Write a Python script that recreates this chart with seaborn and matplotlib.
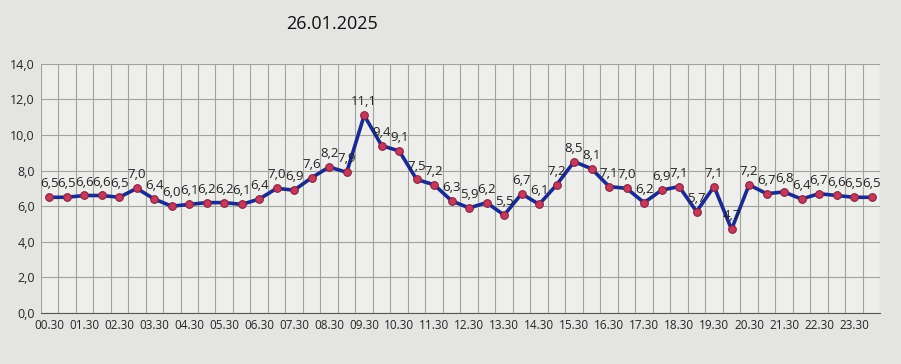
import matplotlib
matplotlib.use("Agg")
import matplotlib.pyplot as plt
import seaborn as sns
import numpy as np
import pandas as pd

title = "26.01.2025"
times = ["00.30", "01.00", "01.30", "02.00", "02.30", "03.00", "03.30", "04.00",
         "04.30", "05.00", "05.30", "06.00", "06.30", "07.00", "07.30", "08.00",
         "08.30", "09.00", "09.30", "10.00", "10.30", "11.00", "11.30", "12.00",
         "12.30", "13.00", "13.30", "14.00", "14.30", "15.00", "15.30", "16.00",
         "16.30", "17.00", "17.30", "18.00", "18.30", "19.00", "19.30", "20.00",
         "20.30", "21.00", "21.30", "22.00", "22.30", "23.00", "23.30", "24.00"]
values = [6.5, 6.5, 6.6, 6.6, 6.5, 7.0, 6.4, 6.0, 6.1, 6.2, 6.2, 6.1, 6.4, 7.0, 6.9, 7.6,
          8.2, 7.9, 11.1, 9.4, 9.1, 7.5, 7.2, 6.3, 5.9, 6.2, 5.5, 6.7, 6.1, 7.2, 8.5, 8.1,
          7.1, 7.0, 6.2, 6.9, 7.1, 5.7, 7.1, 4.7, 7.2, 6.7, 6.8, 6.4, 6.7, 6.6, 6.5, 6.5]
y_ticks = [0, 2, 4, 6, 8, 10, 12, 14]

df = pd.DataFrame({"pos": np.arange(len(times)), "time": times, "value": values})

sns.set_style("white")
plt.rcParams["font.family"] = ["Open Sans", "DejaVu Sans"]

fig = plt.figure(figsize=(9.01, 3.64), dpi=100)
fig.patch.set_facecolor("#e4e4e2")
ax = fig.add_axes([0.045, 0.14, 0.932, 0.685])
ax.set_facecolor("#eeeeec")

sns.lineplot(data=df, x="pos", y="value", ax=ax, color="#1b2a8f", linewidth=2.6,
             marker="o", markersize=5.5, markerfacecolor="#c23a5c",
             markeredgecolor="#8a2040", markeredgewidth=0.8)

for p, v in zip(df["pos"], df["value"]):
    ax.annotate(f"{v:.1f}".replace(".", ","), (p, v), textcoords="offset points",
                xytext=(0, 5), ha="center", va="bottom", fontsize=9.5, color="#222222")

ax.set_xlim(-0.5, len(times) - 0.5)
ax.set_ylim(0, 14)
ax.set_yticks(y_ticks)
ax.set_yticklabels([f"{t:.1f}".replace(".", ",") for t in y_ticks], fontsize=9)
ax.set_xticks(df["pos"][::2])
ax.set_xticklabels(times[::2], fontsize=8.5)
ax.set_xticks(np.arange(-0.5, len(times), 1), minor=True)
ax.tick_params(axis="both", which="both", length=0, pad=4)
ax.grid(True, which="minor", axis="x", color="#a2a2a0", linewidth=0.8)
ax.grid(True, which="major", axis="y", color="#a2a2a0", linewidth=0.8)
ax.set_xlabel("")
ax.set_ylabel("")
for s in ["top", "right", "left"]:
    ax.spines[s].set_visible(False)
ax.spines["bottom"].set_color("#555555")

fig.text(0.368, 0.935, title, fontsize=13, color="#111111", ha="center", va="center")

fig.savefig("out.png", dpi=100, facecolor=fig.get_facecolor())
